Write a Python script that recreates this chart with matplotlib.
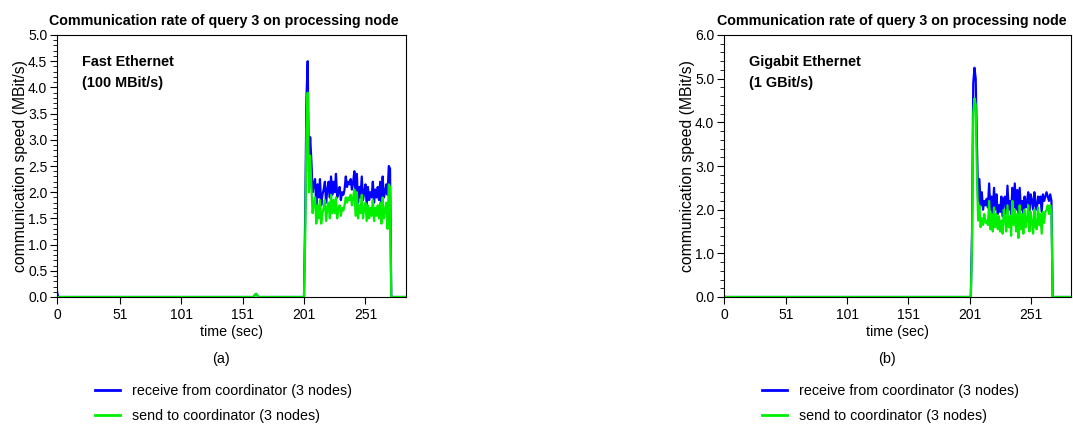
import matplotlib.pyplot as plt
from matplotlib.ticker import MultipleLocator, FormatStrFormatter
from matplotlib.lines import Line2D

plt.rcParams['font.family'] = ['Liberation Sans', 'DejaVu Sans']

# ---- panel (a): Fast Ethernet ----
a_time = [0, 1, 2, 160, 161, 162, 163, 164, 200, 201,
          202, 203, 204, 205, 206, 207, 208, 209, 210, 211,
          212, 213, 214, 215, 216, 217, 218, 219, 220, 221,
          222, 223, 224, 225, 226, 227, 228, 229, 230, 231,
          232, 233, 234, 235, 236, 237, 238, 239, 240, 241,
          242, 243, 244, 245, 246, 247, 248, 249, 250, 251,
          252, 253, 254, 255, 256, 257, 258, 259, 260, 261,
          262, 263, 264, 265, 266, 267, 268, 269, 270, 271,
          272, 273, 286]
a_recv = [0.1, 0.0, 0.0, 0.0, 0.04, 0.06, 0.03, 0.0, 0.0, 0.0,
          1.6, 3.8, 4.5, 2.4, 3.05, 2.6, 2.0, 2.15, 2.25, 1.75,
          2.15, 1.9, 2.25, 1.75, 1.95, 2.05, 2.2, 1.8, 2.05, 2.2,
          1.9, 2.3, 1.95, 2.2, 2.0, 2.35, 1.9, 2.0, 2.1, 1.85,
          2.0, 1.95, 2.05, 2.3, 2.1, 2.2, 2.15, 2.25, 2.05, 2.2,
          2.4, 1.85, 2.35, 1.8, 2.1, 1.9, 2.3, 1.85, 2.0, 2.15,
          1.75, 2.1, 1.85, 2.0, 1.9, 2.2, 1.8, 2.05, 1.9, 2.1,
          1.85, 2.2, 1.8, 2.3, 1.9, 2.0, 2.15, 1.95, 2.5, 2.45,
          0.0, 0.0, 0.0]
a_send = [0.0, 0.0, 0.0, 0.0, 0.04, 0.06, 0.03, 0.0, 0.0, 0.0,
          1.2, 3.2, 3.9, 2.0, 2.7, 2.1, 1.6, 1.8, 1.9, 1.4,
          1.75, 1.5, 1.85, 1.4, 1.6, 1.7, 1.85, 1.45, 1.7, 1.8,
          1.5, 1.95, 1.6, 1.85, 1.6, 1.9, 1.5, 1.7, 1.75, 1.55,
          1.7, 1.65, 1.75, 1.9, 1.8, 1.9, 1.85, 1.95, 1.75, 1.9,
          2.05, 1.55, 2.0, 1.5, 1.75, 1.6, 1.95, 1.5, 1.7, 1.8,
          1.45, 1.75, 1.5, 1.7, 1.55, 1.85, 1.45, 1.7, 1.55, 1.75,
          1.5, 1.8, 1.4, 1.9, 1.5, 1.65, 1.8, 1.3, 2.15, 2.1,
          0.0, 0.0, 0.0]

# ---- panel (b): Gigabit Ethernet ----
b_time = [0, 1, 2, 200, 201, 202, 203, 204, 205, 206,
          207, 208, 209, 210, 211, 212, 213, 214, 215, 216,
          217, 218, 219, 220, 221, 222, 223, 224, 225, 226,
          227, 228, 229, 230, 231, 232, 233, 234, 235, 236,
          237, 238, 239, 240, 241, 242, 243, 244, 245, 246,
          247, 248, 249, 250, 251, 252, 253, 254, 255, 256,
          257, 258, 259, 260, 261, 262, 263, 264, 265, 266,
          267, 268, 269, 270, 271, 286]
b_recv = [0.02, 0.0, 0.0, 0.0, 0.0, 0.0, 1.5, 4.9, 5.25, 5.0,
          3.5, 2.2, 2.7, 2.1, 2.4, 2.0, 2.2, 2.1, 2.25, 2.05,
          2.6, 2.0, 2.3, 1.9, 2.5, 2.0, 2.35, 1.9, 2.1, 1.95,
          2.3, 1.85, 2.25, 2.3, 1.9, 2.55, 2.0, 2.2, 1.9, 2.5,
          2.05, 2.6, 2.0, 2.45, 1.9, 2.5, 2.0, 2.2, 1.85, 2.3,
          2.05, 2.2, 2.4, 1.95, 2.35, 2.2, 2.0, 2.4, 2.1, 2.0,
          2.3, 2.15, 2.3, 1.95, 2.35, 2.2, 2.3, 2.4, 2.3, 2.2,
          2.35, 2.2, 0.0, 0.0, 0.0, 0.0]
b_send = [0.0, 0.0, 0.0, 0.0, 0.0, 0.0, 1.2, 4.2, 4.55, 4.4,
          2.8, 1.75, 2.1, 1.6, 1.8, 1.65, 1.9, 1.7, 1.75, 1.65,
          2.2, 1.55, 1.9, 1.5, 2.05, 1.6, 1.9, 1.55, 1.85, 1.5,
          1.75, 1.45, 2.0, 1.8, 1.5, 2.1, 1.6, 1.85, 1.4, 2.2,
          1.65, 2.0, 1.5, 1.9, 1.35, 2.1, 1.55, 1.9, 1.45, 2.0,
          1.6, 1.75, 2.1, 1.5, 1.95, 1.7, 1.45, 2.0, 1.6, 1.55,
          2.05, 1.65, 1.9, 1.45, 1.95, 1.7, 1.95, 2.0, 2.1, 1.9,
          2.1, 1.95, 0.0, 0.0, 0.0, 0.0]

x_ticks = [0, 51, 101, 151, 201, 251]
title = 'Communication rate of query 3 on processing node'
legend_labels = ['receive from coordinator (3 nodes)', 'send to coordinator (3 nodes)']
blue = '#0000ff'
green = '#00f000'

W, H = 1073, 424
fig = plt.figure(figsize=(W / 100, H / 100), dpi=100)


def make_axes(l, r, t, b):
    return fig.add_axes([l / W, 1 - b / H, (r - l) / W, (b - t) / H])


panels = [
    (make_axes(57, 406, 35, 297), a_time, a_recv, a_send, 5.0, 0.5, 0.1,
     ['Fast Ethernet', '(100 MBit/s)'], '(a)', 95, 0.477),
    (make_axes(724, 1071, 35, 297), b_time, b_recv, b_send, 6.0, 1.0, 0.2,
     ['Gigabit Ethernet', '(1 GBit/s)'], '(b)', 762, 0.483),
]

for ax, t, recv, send, ymax, major, minor, note, tag, leg_x, title_x in panels:
    ax.plot(t, recv, color=blue, lw=1.6, solid_joinstyle='round')
    ax.plot(t, send, color=green, lw=1.6, solid_joinstyle='round')
    ax.set_xlim(0, 284)
    ax.set_ylim(0, ymax)
    ax.set_xticks(x_ticks)
    ax.yaxis.set_major_locator(MultipleLocator(major))
    ax.yaxis.set_minor_locator(MultipleLocator(minor))
    ax.yaxis.set_major_formatter(FormatStrFormatter('%.1f'))
    ax.tick_params(axis='both', which='major', labelsize=10, length=5,
                   width=0.8, pad=2)
    ax.tick_params(axis='x', which='major', pad=3)
    ax.tick_params(axis='y', which='minor', length=3, width=0.6)
    ax.set_xlabel('time (sec)', fontsize=10.3, labelpad=2)
    ax.set_ylabel('communication speed (MBit/s)', fontsize=11.3, labelpad=0)
    ax.set_title(title, fontsize=10.3, fontweight='bold', pad=7, x=title_x)
    ax.text(0.072, 0.897, note[0], transform=ax.transAxes, fontsize=10.4,
            fontweight='bold', va='center')
    ax.text(0.072, 0.817, note[1], transform=ax.transAxes, fontsize=10.4,
            fontweight='bold', va='center')
    ax.text(0.47, -0.235, tag, transform=ax.transAxes, fontsize=10.4,
            ha='center', va='center')
    handles = [Line2D([], [], color=blue, lw=2), Line2D([], [], color=green, lw=2)]
    fig.legend(handles, legend_labels, loc='upper left',
               bbox_to_anchor=(leg_x / W, 1 - 384 / H), frameon=False,
               fontsize=10.3, handlelength=1.75, handletextpad=0.85,
               labelspacing=0.75, borderpad=0, borderaxespad=0)

fig.savefig('out.png', dpi=100)
